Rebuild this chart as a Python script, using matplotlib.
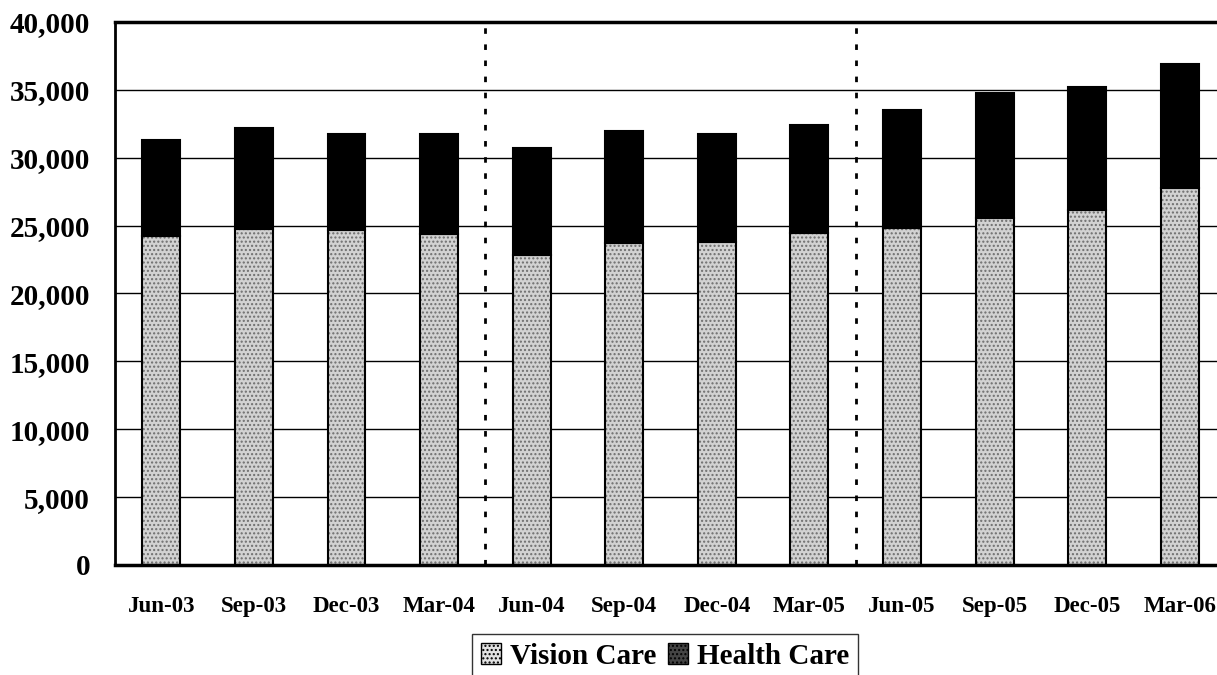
import matplotlib.pyplot as plt
from matplotlib.patches import Patch
from matplotlib.ticker import FuncFormatter

plt.rcParams['font.family'] = ['Liberation Serif', 'DejaVu Serif']
plt.rcParams['font.weight'] = 'bold'

# quarter-end figures
quarters = ['Jun-03', 'Sep-03', 'Dec-03', 'Mar-04', 'Jun-04', 'Sep-04',
            'Dec-04', 'Mar-05', 'Jun-05', 'Sep-05', 'Dec-05', 'Mar-06']
vision = [24260, 24750, 24680, 24360, 22840, 23690,
          23770, 24430, 24800, 25590, 26150, 27800]
health = [7030, 7440, 7090, 7360, 7850, 8250,
          7950, 8010, 8690, 9210, 9060, 9130]
year_breaks = [3.5, 7.5]

fig = plt.figure(figsize=(12.17, 6.75), dpi=100)
ax = fig.add_axes([0.0945, 0.163, 0.913, 0.8045])

x = list(range(len(quarters)))
w = 0.41

# vision care: stippled grey
ax.bar(x, vision, w, color='#d2d2d2', edgecolor='#6e6e6e', hatch='....', linewidth=0, zorder=2)
ax.bar(x, vision, w, fill=False, edgecolor='black', linewidth=1.5, zorder=3)
# health care: solid black
ax.bar(x, health, w, bottom=vision, color='black', edgecolor='black', linewidth=1.5, zorder=3)

for b in year_breaks:
    ax.axvline(b, color='black', lw=2, linestyle=(0, (2, 3.8)), zorder=4)

ax.set_xlim(-0.5, len(quarters) - 0.5)
ax.set_ylim(0, 40000)
ax.set_yticks(range(0, 40001, 5000))
ax.yaxis.set_major_formatter(FuncFormatter(lambda v, p: f'{int(v):,}'))
ax.grid(axis='y', color='black', lw=1)
ax.set_axisbelow(True)

ax.set_xticks(x)
ax.set_xticklabels(quarters)
ax.tick_params(axis='x', length=0, pad=22, labelsize=16.5)
ax.tick_params(axis='y', length=0, pad=18, labelsize=21)

ax.spines['left'].set_linewidth(2)
ax.spines['top'].set_linewidth(2.5)
ax.spines['bottom'].set_linewidth(2.5)
ax.spines['right'].set_visible(False)

handles = [
    Patch(facecolor='#e2e2e2', edgecolor='black', hatch='....', label='Vision Care'),
    Patch(facecolor='#444444', edgecolor='black', hatch='....', label='Health Care'),
]
fig.legend(handles=handles, loc='upper center', bbox_to_anchor=(665 / 1217, 1 - 634 / 675),
           ncol=2, fontsize=21, frameon=True, fancybox=False, edgecolor='black',
           handlelength=0.7, handleheight=0.7, handletextpad=0.3, columnspacing=0.4,
           borderpad=0.3, borderaxespad=0)

fig.savefig('out.png', dpi=100)
